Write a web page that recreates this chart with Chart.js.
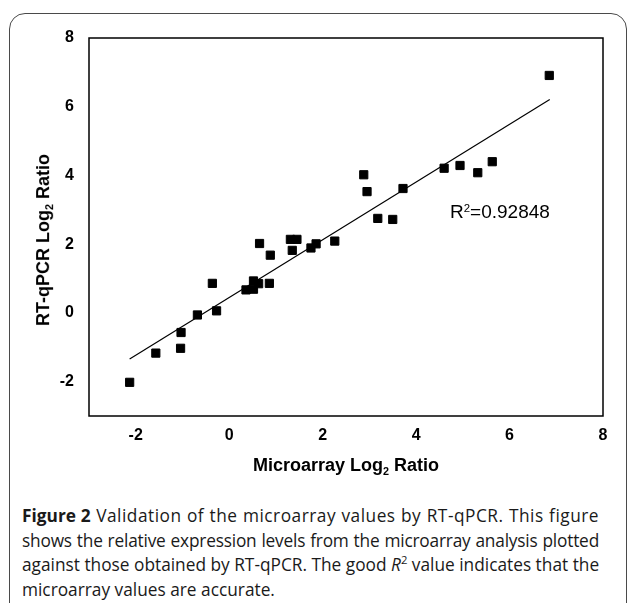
<!DOCTYPE html>
<html>
<head>
<meta charset="utf-8">
<script src="https://cdn.jsdelivr.net/npm/chart.js@4.4.0/dist/chart.umd.min.js"></script>
<style>
  html, body { margin: 0; padding: 0; background: #fff; }
  body { width: 629px; height: 603px; position: relative; overflow: hidden; }
  .box { position: absolute; left: 9px; top: 13px; width: 618px; height: 620px;
         border: 1.5px solid #4a4a4a; border-radius: 16px; box-sizing: border-box; }
  #wrap { position: absolute; left: 0; top: 0; width: 629px; height: 500px; }
  .axis-title { position: absolute; font-family: "Liberation Sans", Arial, sans-serif;
                font-weight: bold; font-size: 18px; color: #000; white-space: nowrap;
                transform: translate(-50%, -50%); }
  .axis-title.y { transform: translate(-50%, -50%) rotate(-90deg); }
  .sub { font-size: 0.6em; vertical-align: -0.35em; }
  .r2 { position: absolute; left: 450px; top: 201px; font-family: "Liberation Sans", Arial, sans-serif;
        font-size: 19px; color: #000; white-space: nowrap; }
  .r2 sup { font-size: 0.6em; vertical-align: 0.55em; line-height: 0; }
  .caption { position: absolute; left: 22px; top: 504px; width: 577px; font-family: "Open Sans", sans-serif;
             font-size: 17.3px; line-height: 24.5px; color: #1a1a1a; white-space: nowrap; }
  .caption div { text-align: justify; text-align-last: justify; }
  .caption div.l1 { letter-spacing: 0.5px; }
  .caption div.l2 { letter-spacing: -0.2px; }
  .caption div.last { text-align-last: left; }
  .caption b { font-weight: bold; letter-spacing: 0; }
  .caption sup { font-size: 0.65em; line-height: 0; }
</style>
</head>
<body>
<div class="box"></div>
<div id="wrap"><canvas id="chart"></canvas></div>
<div class="axis-title y" style="left:44px; top:240px;">RT-qPCR Log<span class="sub">2</span> Ratio</div>
<div class="axis-title" style="left:346px; top:466px;">Microarray Log<span class="sub">2</span> Ratio</div>
<div class="r2">R<sup>2</sup>=0.92848</div>
<div class="caption">
  <div class="l1"><b>Figure 2</b> Validation of the microarray values by RT-qPCR. This figure</div>
  <div class="l2">shows the relative expression levels from the microarray analysis plotted</div>
  <div>against those obtained by RT-qPCR. The good <i>R</i><sup>2</sup> value indicates that the</div>
  <div class="last">microarray values are accurate.</div>
</div>
<script>
// valeurs
var microarray = [-2.13, -1.57, -1.04, -1.03, -0.68, -0.36, -0.27, 0.36, 0.52, 0.52,
                  0.63, 0.65, 0.88, 0.86, 1.31, 1.45, 1.35, 1.75, 1.86, 2.26,
                  2.88, 2.95, 3.18, 3.50, 3.72, 4.60, 4.94, 5.32, 5.63, 6.85];
var rtqpcr = [-2.02, -1.17, -1.03, -0.57, -0.06, 0.86, 0.06, 0.67, 0.93, 0.69,
              0.85, 2.02, 1.68, 0.86, 2.14, 2.14, 1.82, 1.89, 2.01, 2.09,
              4.02, 3.53, 2.75, 2.72, 3.62, 4.21, 4.29, 4.08, 4.40, 6.91];
// extrémités de la droite de tendance
var trendX = [-2.13, 6.86];
var trendY = [-1.34, 6.21];
var xTicks = [-2, 0, 2, 4, 6, 8];
var yTicks = [-2, 0, 2, 4, 6, 8];

var points = microarray.map(function (x, i) { return { x: x, y: rtqpcr[i] }; });
var trend = trendX.map(function (x, i) { return { x: x, y: trendY[i] }; });

// cadre autour de la zone du graphique
var framePlugin = {
    id: 'frame',
    afterDraw: function (chart) {
        var a = chart.chartArea, ctx = chart.ctx;
        ctx.save();
        ctx.strokeStyle = '#000';
        ctx.lineWidth = 1.5;
        ctx.strokeRect(a.left, a.top, a.right - a.left, a.bottom - a.top);
        ctx.restore();
    }
};

var tickFont = { family: '"Liberation Sans", Arial, sans-serif', size: 16, weight: 'bold' };

var ctx = document.getElementById('chart').getContext('2d');
new Chart(ctx, {
    type: 'scatter',
    data: {
        datasets: [{
            data: points,
            pointStyle: 'rect',
            pointRadius: 5.8,
            pointBorderWidth: 1,
            backgroundColor: '#000',
            borderColor: '#000'
        }, {
            type: 'line',
            data: trend,
            borderColor: '#000',
            borderWidth: 1.2,
            pointRadius: 0,
            fill: false
        }]
    },
    options: {
        responsive: true,
        maintainAspectRatio: false,
        animation: false,
        layout: { padding: { top: 38, right: 26, left: 0, bottom: 0 } },
        plugins: { legend: { display: false }, tooltip: { enabled: false } },
        scales: {
            x: {
                type: 'linear', min: -3, max: 8,
                grid: { display: false }, border: { display: false },
                afterBuildTicks: function (s) { s.ticks = xTicks.map(function (v) { return { value: v }; }); },
                afterFit: function (s) { s.height = 84; },
                ticks: { color: '#000', font: tickFont, padding: 2, maxRotation: 0 }
            },
            y: {
                type: 'linear', min: -3, max: 8,
                grid: { display: false }, border: { display: false },
                afterBuildTicks: function (s) { s.ticks = yTicks.map(function (v) { return { value: v }; }); },
                afterFit: function (s) { s.width = 89; },
                ticks: { color: '#000', font: tickFont, padding: 7 }
            }
        }
    },
    plugins: [framePlugin]
});
</script>
</body>
</html>
